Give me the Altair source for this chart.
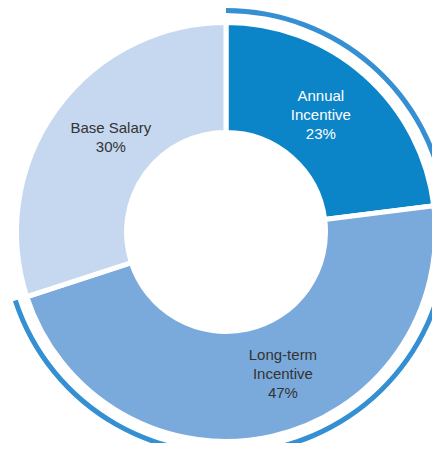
import altair as alt
import pandas as pd

names = ["Annual Incentive", "Long-term Incentive", "Base Salary"]
values = [23, 47, 30]
labels = ["Annual\nIncentive\n23%", "Long-term\nIncentive\n47%", "Base Salary\n30%"]
colors = ["#0b84c8", "#7aaadb", "#c5d8f0"]
ring_groups = ["Annual Incentive", "Long-term Incentive"]

df = pd.DataFrame({
    "name": names,
    "value": values,
    "label": labels,
    "idx": list(range(len(names))),
})

CX, CY = 218, 224

base = alt.Chart(df).encode(
    theta=alt.Theta("value:Q", stack=True),
    order=alt.Order("idx:Q", sort="ascending"),
    x=alt.value(CX),
    y=alt.value(CY),
)

slices = base.mark_arc(outerRadius=209.5, innerRadius=99.5, stroke="white", strokeWidth=5).encode(
    color=alt.Color("name:N", scale=alt.Scale(domain=names, range=colors), legend=None),
)

ring = base.mark_arc(radius=224, radius2=219, color="#3490d2").encode(
    opacity=alt.condition(
        alt.FieldOneOfPredicate(field="name", oneOf=ring_groups), alt.value(1), alt.value(0)
    ),
)

text_kw = dict(radius=151, fontSize=15, font="Liberation Sans", lineBreak="\n",
               lineHeight=19, align="center", baseline="middle")

text_annual = base.mark_text(color="white", dx=-5, dy=-23, **text_kw).encode(
    text=alt.condition(alt.datum.name == "Annual Incentive", "label:N", alt.value("")),
)
text_lt = base.mark_text(color="#333333", dx=24, dy=-24, **text_kw).encode(
    text=alt.condition(alt.datum.name == "Long-term Incentive", "label:N", alt.value("")),
)
text_bs = base.mark_text(color="#333333", dx=7, dy=-15, **text_kw).encode(
    text=alt.condition(alt.datum.name == "Base Salary", "label:N", alt.value("")),
)

chart = alt.layer(ring, slices, text_annual, text_lt, text_bs).properties(
    width=424, height=435, padding=0,
    autosize=alt.AutoSizeParams(type="none"),
).configure_view(stroke=None)

chart.save("out.html", embed_options={"renderer": "svg", "actions": False})
